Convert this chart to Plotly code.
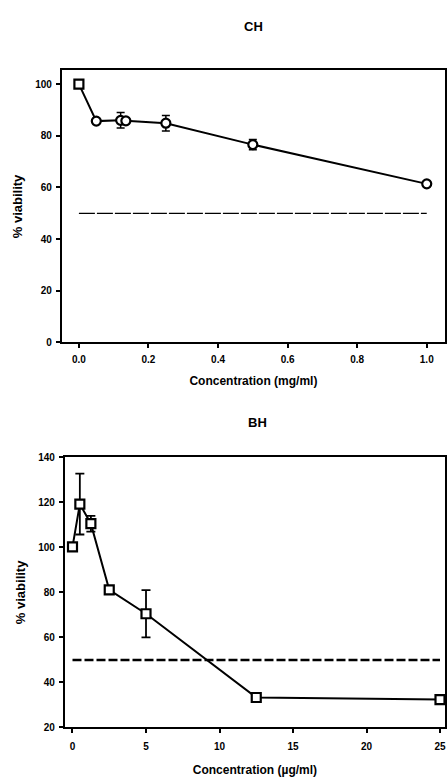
import plotly.graph_objects as go

# CH panel data
ch_conc = [0, 0.05, 0.12, 0.135, 0.25, 0.5, 1.0]
ch_viability = [100, 85.7, 86, 85.8, 84.9, 76.6, 61.4]
ch_err = [0, 0, 3, 0, 3, 2, 0]
ch_symbols = ["square", "circle", "circle", "circle", "circle", "circle", "circle"]

# BH panel data
bh_conc = [0, 0.5, 1.25, 2.5, 5, 12.5, 25]
bh_viability = [100.2, 119.2, 110.5, 81.1, 70.5, 33.3, 32.4]
bh_err = [0, 13.5, 3.5, 0, 10.5, 0, 0]

threshold = 50

FONT = "Liberation Sans, Arial, sans-serif"
BLACK = "#000000"

fig = go.Figure()

# threshold lines
fig.add_trace(go.Scatter(
    x=[ch_conc[0], ch_conc[-1]], y=[threshold, threshold],
    mode="lines", line=dict(color=BLACK, width=1.3, dash="16px,2px"),
    xaxis="x", yaxis="y", showlegend=False, hoverinfo="skip"))
fig.add_trace(go.Scatter(
    x=[bh_conc[0], bh_conc[-1]], y=[threshold, threshold],
    mode="lines", line=dict(color=BLACK, width=2.5, dash="9px,3px"),
    xaxis="x2", yaxis="y2", showlegend=False, hoverinfo="skip"))

# CH data
fig.add_trace(go.Scatter(
    x=ch_conc, y=ch_viability, mode="lines+markers",
    line=dict(color=BLACK, width=2),
    marker=dict(symbol=ch_symbols, size=9, color="white",
                line=dict(color=BLACK, width=2.2)),
    error_y=dict(type="data", array=ch_err, visible=True,
                 color=BLACK, thickness=1.5, width=4),
    xaxis="x", yaxis="y", showlegend=False, name="CH"))

# BH data
fig.add_trace(go.Scatter(
    x=bh_conc, y=bh_viability, mode="lines+markers",
    line=dict(color=BLACK, width=2),
    marker=dict(symbol="square", size=9, color="white",
                line=dict(color=BLACK, width=2.2)),
    error_y=dict(type="data", array=bh_err, visible=True,
                 color=BLACK, thickness=1.8, width=4.5),
    xaxis="x2", yaxis="y2", showlegend=False, name="BH"))

W, H = 447, 782

def px(v):
    return v / W

def py(v):
    return 1 - v / H

axis_common = dict(
    showline=True, linecolor=BLACK, linewidth=2, mirror=True,
    ticks="outside", ticklen=4, tickwidth=2, tickcolor=BLACK,
    showgrid=False, zeroline=False,
    tickfont=dict(family=FONT, size=10, color=BLACK, weight="bold"),
)
xtitle_font = dict(family=FONT, size=12, color=BLACK, weight="bold")
ytitle_font = dict(family=FONT, size=13, color=BLACK, weight="bold")

fig.update_layout(
    width=W, height=H,
    margin=dict(l=0, r=0, t=0, b=0),
    paper_bgcolor="white", plot_bgcolor="white",
    font=dict(family=FONT, color=BLACK),
    xaxis=dict(**axis_common, domain=[px(62), px(446)], anchor="y",
               range=[-0.049, 1.0525], dtick=0.2, tick0=0, tickformat=".1f",
               ticklabelstandoff=3,
               title=dict(text="Concentration (mg/ml)", font=xtitle_font, standoff=12)),
    yaxis=dict(**axis_common, domain=[py(341.7), py(65.5)], anchor="x",
               range=[0, 105.3], dtick=20, tick0=0, ticklabelstandoff=2,
               title=dict(text="% viability", font=ytitle_font, standoff=10)),
    xaxis2=dict(**axis_common, domain=[px(65), px(446)], anchor="y2",
                range=[-0.52, 25.34], dtick=5, tick0=0, ticklabelstandoff=5,
                title=dict(text="Concentration (µg/ml)", font=xtitle_font, standoff=14)),
    yaxis2=dict(**axis_common, domain=[py(732.7), py(458.3)], anchor="x2",
                range=[20, 140], dtick=20, tick0=20, ticklabelstandoff=2,
                title=dict(text="% viability", font=ytitle_font, standoff=10)),
    annotations=[
        dict(text="CH", x=px(254), y=py(21), xref="paper", yref="paper",
             showarrow=False, font=dict(family=FONT, size=13, color=BLACK, weight="bold"),
             xanchor="center", yanchor="middle"),
        dict(text="BH", x=px(258), y=py(423), xref="paper", yref="paper",
             showarrow=False, font=dict(family=FONT, size=13, color=BLACK, weight="bold"),
             xanchor="center", yanchor="middle"),
    ],
)

fig.write_html(
    "out.html",
    config={"displayModeBar": False},
    post_script="document.body.style.margin='0';document.body.style.overflow='hidden';",
)
